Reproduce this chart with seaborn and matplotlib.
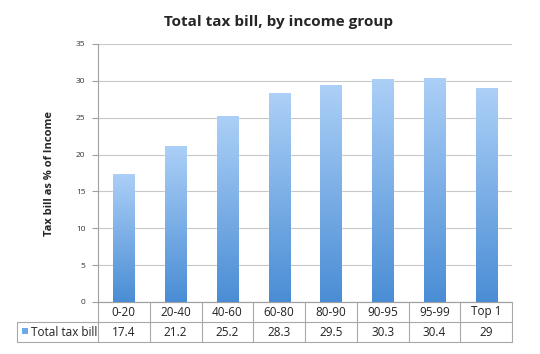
import matplotlib
matplotlib.use("Agg")
import matplotlib.pyplot as plt
import seaborn as sns
import numpy as np
import pandas as pd
from matplotlib.colors import LinearSegmentedColormap
from matplotlib.patches import Rectangle

categories = ["0-20", "20-40", "40-60", "60-80", "80-90", "90-95", "95-99", "Top 1"]
values = [17.4, 21.2, 25.2, 28.3, 29.5, 30.3, 30.4, 29]
value_labels = ["17.4", "21.2", "25.2", "28.3", "29.5", "30.3", "30.4", "29"]
series_name = "Total tax bill"
title = "Total tax bill, by income group"
ylabel = "Tax bill as % of Income"
yticks = [0, 5, 10, 15, 20, 25, 30, 35]

sns.set_theme(style="white")
plt.rcParams['font.family'] = ['Open Sans', 'DejaVu Sans']

fig = plt.figure(figsize=(5.4, 3.54), dpi=100)
ax = fig.add_axes([98/540, 1-302/354, 414/540, 258/354])

df = pd.DataFrame({"group": categories, "value": values})
sns.barplot(data=df, x="group", y="value", color="#6fa8e6", width=0.41, ax=ax,
            saturation=1, zorder=3)

cmap = LinearSegmentedColormap.from_list("g", ["#4a8dd5", "#acd0f7"])
grad = np.linspace(0, 1, 256).reshape(-1, 1)
for p in ax.patches:
    x0 = p.get_x(); w = p.get_width(); h = p.get_height()
    im = ax.imshow(grad, extent=[x0, x0 + w, 0, h], origin="lower", aspect="auto",
                   cmap=cmap, zorder=4)
    im.set_clip_path(p)

ax.set_xlim(-0.5, len(categories) - 0.5)
ax.set_ylim(0, 35)
ax.set_yticks(yticks)
ax.set_yticklabels([str(t) for t in yticks], fontsize=6, color="#333333")
ax.yaxis.grid(True, color="#c8c8c8", linewidth=0.8, zorder=0)
ax.set_axisbelow(True)
ax.tick_params(axis="y", left=True, length=4, width=0.8, color="#a0a0a0", pad=5)
ax.set_xticks([])
ax.set_xlabel("")
ax.set_ylabel(ylabel, fontsize=8, fontweight="bold", labelpad=15)
for s in ["top", "right"]:
    ax.spines[s].set_visible(False)
ax.spines["left"].set_color("#a0a0a0")
ax.spines["left"].set_linewidth(0.8)
ax.spines["bottom"].set_color("#a0a0a0")
ax.spines["bottom"].set_linewidth(0.8)

fig.text(278/540, 1-22/354, title, ha="center", va="center", fontsize=11, fontweight="bold")

# table below axis
tr = ax.get_xaxis_transform()
row_h = 20/258
lc = "#a8a8a8"
xl = -0.5 - (98-17)/414*8
xr = len(categories) - 0.5
ax.plot([-0.5, xr], [0, 0], transform=tr, color=lc, lw=0.8, clip_on=False)
ax.plot([xl, xr], [-row_h, -row_h], transform=tr, color=lc, lw=0.8, clip_on=False)
ax.plot([xl, xr], [-2*row_h, -2*row_h], transform=tr, color=lc, lw=0.8, clip_on=False)
for i in range(len(categories) + 1):
    ax.plot([i - 0.5, i - 0.5], [0, -2*row_h], transform=tr, color=lc, lw=0.8, clip_on=False)
ax.plot([xl, xl], [-row_h, -2*row_h], transform=tr, color=lc, lw=0.8, clip_on=False)

for i, (c, v) in enumerate(zip(categories, value_labels)):
    ax.text(i, -0.5*row_h, c, transform=tr, ha="center", va="center", fontsize=8.5, color="#222222")
    ax.text(i, -1.5*row_h, v, transform=tr, ha="center", va="center", fontsize=8.5, color="#222222")

sq_x = 22/540; sq_y = 1-331/354
fig.patches.append(Rectangle((sq_x, sq_y - 2.5/354), 6/540, 5.5/354, transform=fig.transFigure,
                             facecolor="#6fa8e6", edgecolor="none"))
fig.text(31/540, 1-332/354, series_name, ha="left", va="center", fontsize=8.5, color="#222222")

fig.savefig("out.png", dpi=100)
